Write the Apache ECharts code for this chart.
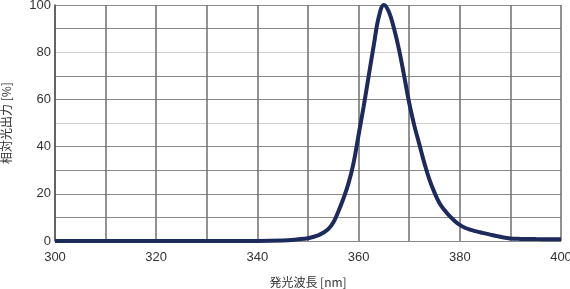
<!DOCTYPE html>
<html><head><meta charset="utf-8">
<script src="https://cdn.jsdelivr.net/npm/echarts@6/dist/echarts.min.js"></script>
<style>html,body{margin:0;padding:0;background:#fff;}#c{width:570px;height:289px;}</style>
</head><body><div id="c"></div>
<script>
const wavelengths = [300,310,320,330,340,345,348,350,352,353,354,355,356,357,358,359,360,361,362,363,364,365,366,367,368,369,370,371,372,373,374,375,376,377,378,379,380,381,382,383,384,386,388,390,392,395,400];
const intensity   = [0,0,0,0,0,0.2,0.7,1.2,2.4,3.5,5,7.8,12.5,18,24.4,33,45,57,70,83,95,100,97,90,81,70,58.5,49,41,33,26,20.5,16,13,10.5,8.5,6.8,5.6,4.8,4.2,3.7,2.7,1.8,1.1,0.9,0.8,0.7];
const xTicks = [300,320,340,360,380,400];
const yTicks = [0,20,40,60,80,100];
const xName = '発光波長 [nm]';
const yName = '相対光出力 [%]';

const chart = echarts.init(document.getElementById('c'), null, {renderer:'canvas'});
const font = '"Liberation Sans Narrow","Liberation Sans",Arial,sans-serif';
const hColors = [];
for (let v = 0; v <= 100; v += 10) hColors.push((v === 50 || v === 80) ? '#cfcfcf' : '#8a8a8a');
chart.setOption({
  animation:false,
  backgroundColor:'#fff',
  grid:{left:55,right:9,top:5,bottom:48,show:false,containLabel:false,outerBoundsMode:'none'},
  xAxis:{
    type:'value',min:300,max:400,interval:10,
    name:xName,nameLocation:'middle',nameGap:35,
    nameTextStyle:{fontFamily:'"Noto Sans CJK JP",sans-serif',fontSize:12,color:'#333'},
    axisLine:{show:false},axisTick:{show:false},
    axisLabel:{margin:10,fontFamily:font,fontSize:13,color:'#333',
      formatter:v=>xTicks.includes(v)?String(v):''},
    splitLine:{show:true,lineStyle:{color:'#6e6e6e',width:1.5}}
  },
  yAxis:{
    type:'value',min:0,max:100,interval:10,
    name:yName,nameLocation:'middle',nameGap:43,nameRotate:90,
    nameTextStyle:{fontFamily:'"Noto Sans CJK JP",sans-serif',fontSize:12,color:'#333'},
    axisLine:{show:true,lineStyle:{color:'#555',width:1.5}},axisTick:{show:false},
    axisLabel:{margin:4,fontFamily:font,fontSize:13,color:'#333',
      formatter:v=>yTicks.includes(v)?String(v):''},
    splitLine:{show:true,lineStyle:{color:hColors,width:1}}
  },
  series:[{
    type:'line',smooth:0.4,symbol:'none',
    data:wavelengths.map((w,i)=>[w,intensity[i]]),
    lineStyle:{color:'#1c2a5c',width:4},
    clip:false
  }]
});
</script></body></html>
